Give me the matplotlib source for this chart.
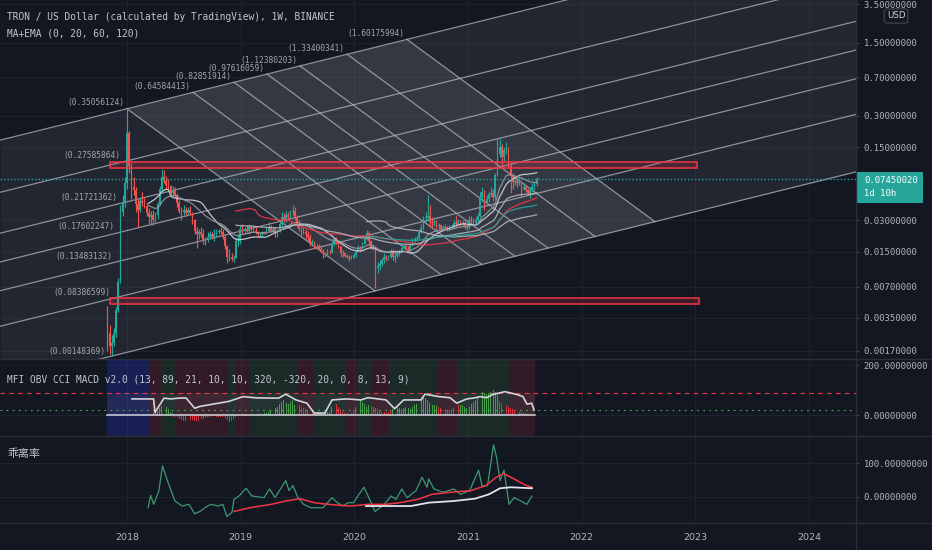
import numpy as np
import pandas as pd
import matplotlib
matplotlib.use('Agg')
import matplotlib.pyplot as plt
from matplotlib.patches import Polygon, Rectangle
from matplotlib.lines import Line2D
from matplotlib.ticker import NullLocator

plt.rcParams['font.family'] = ['DejaVu Sans', 'Noto Sans CJK SC']

# ---------------- data ----------------
# weekly candles, Monday open, first one 2017-10-30
first_week = '2017-10-30'
first_open = 0.0042
closes = [
    .0025, .0019, .0020, .0025, .0042, .0078, .036, .045, .068,
    .205, .10, .062, .058, .043, .038, .046, .044, .041, .035, .032,
    .034, .030, .034, .043, .060, .078, .072, .066, .064, .055,
    .058, .052, .044, .037, .036, .038, .035, .038, .035, .030,
    .024, .022, .023, .022, .019, .020, .021, .022, .021, .022,
    .023, .024, .023, .021, .017, .0135, .0135, .0128, .0132, .019, .019, .025,
    .024, .025, .024, .026, .025, .024, .023, .022, .022, .023, .022, .024,
    .026, .024, .025, .022, .024, .028, .032, .030, .034, .032, .036, .037,
    .032, .028, .025, .025, .023, .022, .021, .018, .0185, .017, .017, .016,
    .015, .0145, .0142, .015, .0148, .018, .0195, .0185, .017, .0145, .0145, .0138, .0135, .0130, .0132, .0140,
    .0150, .0165, .0160, .0180, .0200, .0225, .0190, .0165, .0160, .0105, .0110, .0115,
    .0125, .0135, .0128, .0135, .0152, .0135, .0138, .0145, .0152, .0165, .0170, .0160,
    .0158, .0175, .0195, .0198, .0205, .0230, .0255, .0315, .0320, .0330, .0290, .0285,
    .0290, .0265, .0270, .0250, .0255, .0260, .0245, .0255, .0260, .0285, .0280, .0290, .0272, .0285, .0265, .0265,
    .0300, .0295, .0285, .0300, .0330, .0500, .0560, .0440, .0480, .0540, .0550, .0500,
    .082, .128, .150, .120, .140, .140, .100, .080, .070, .072, .068, .070,
    .060, .063, .058, .055, .058, .063, .067, .0745,
]
highs = [
    .0046, .0030, .0024, .0028, .0045, .0085, .042, .052, .078,
    .345, .215, .105, .078, .062, .048, .050, .056, .050, .045, .039,
    .037, .038, .036, .045, .064, .094, .090, .080, .074, .066,
    .064, .063, .055, .047, .040, .042, .040, .040, .041, .036,
    .031, .026, .025, .026, .025, .021, .023, .024, .023, .025,
    .025, .025, .026, .025, .022, .0175, .016, .0145, .0140, .021, .022, .027,
    .028, .026, .027, .028, .027, .027, .026, .024, .023, .024, .024, .026,
    .029, .027, .026, .026, .025, .029, .036, .035, .037, .036, .038, .042,
    .040, .034, .030, .027, .026, .025, .024, .022, .020, .019, .018, .018,
    .0175, .016, .015, .016, .0155, .019, .0205, .021, .019, .0172, .0155, .015, .0142, .014, .014, .0145,
    .0155, .0175, .0170, .0185, .0210, .0245, .0240, .0195, .0175, .0165, .0120, .0125,
    .0130, .0145, .0140, .0140, .0160, .0160, .0142, .0150, .0158, .0175, .0180, .0178,
    .0170, .0180, .0205, .0210, .0215, .0240, .0275, .0330, .0360, .0520, .0420, .0320,
    .0310, .0300, .0285, .0275, .0270, .0275, .0265, .0270, .0275, .0300, .0340, .0310, .0300, .0300, .0310, .0285,
    .0330, .0330, .0315, .0320, .0350, .0560, .0620, .0580, .0520, .0560, .0620, .0600,
    .085, .182, .180, .160, .150, .170, .150, .110, .085, .080, .078, .078,
    .070, .068, .065, .060, .062, .068, .070, .078,
]
lows = [
    .0017, .0016, .0015, .0019, .0023, .0040, .0075, .033, .040,
    .060, .085, .048, .052, .036, .026, .036, .041, .039, .033, .028,
    .027, .027, .029, .031, .042, .056, .068, .060, .060, .050,
    .051, .050, .040, .035, .030, .034, .033, .034, .034, .028,
    .022, .0165, .020, .021, .018, .0175, .0185, .020, .020, .019,
    .021, .022, .022, .020, .016, .0118, .0122, .0122, .0120, .013, .017, .018,
    .022, .022, .023, .022, .024, .023, .022, .021, .021, .021, .022, .022,
    .023, .023, .023, .021, .021, .023, .026, .029, .029, .030, .031, .034,
    .030, .026, .024, .021, .022, .020, .019, .017, .017, .016, .016, .0155,
    .0145, .0132, .0135, .0138, .0142, .0145, .017, .0178, .0165, .0135, .0135, .0135, .013, .0122, .0128, .013,
    .0135, .0148, .0150, .0158, .0178, .0195, .0180, .0160, .0155, .0068, .0095, .0100,
    .0110, .0118, .0122, .0125, .0132, .0125, .0120, .0132, .0138, .0150, .0160, .0155,
    .0150, .0155, .0172, .0185, .0190, .0200, .0225, .0245, .0290, .0300, .0260, .0260,
    .0265, .0250, .0250, .0245, .0242, .0245, .0238, .0240, .0248, .0255, .0260, .0270, .0265, .0268, .0250, .0240,
    .0250, .0270, .0265, .0265, .0290, .0320, .0450, .0380, .0420, .0450, .0500, .0460,
    .048, .080, .120, .100, .110, .130, .095, .055, .060, .065, .063, .066,
    .050, .058, .056, .052, .049, .056, .058, .064,
]

price_ticks = [3.5, 1.5, 0.7, 0.3, 0.15, 0.03, 0.015, 0.007, 0.0035, 0.0017]
last_price = 0.0745002
last_label = ['0.07450020', '1d 10h']
years = [2018, 2019, 2020, 2021, 2022, 2023, 2024]

# moving averages of the MA+EMA study: (length, kind, colour)
ma_specs = [(20, 'sma', '#d1d4dc'), (20, 'ema', '#9598a1'),
            (60, 'sma', '#f23645'), (60, 'ema', '#b2b5be'),
            (120, 'sma', '#b2b5be'), (120, 'ema', '#26a69a')]

# fib channel drawing
fib_levels = [0, 0.236, 0.382, 0.5, 0.618, 0.786, 1]
chan_start = (2017.835, 0.00148369)
chan_top = (2018.0, 0.35056124)
chan_slope = 0.2691      # log10 price per year
fan_width = 2.4626       # years from first to last down line along the top edge
fan_run = 2.181          # years a down line runs from top edge to base
left_labels = ['(0.00148369)', '(0.08386599)', '(0.13483132)', '(0.17602247)',
               '(0.21721362)', '(0.27585864)', '(0.35056124)']
top_labels = ['', '(0.64584413)', '(0.82851914)', '(0.97616059)',
              '(1.12380203)', '(1.33400341)', '(1.60175994)']

# red boxes: (start, end, low, high)
boxes = [(2017.850, 2023.013, 0.0949, 0.1082),
         (2017.850, 2023.031, 0.00476, 0.00544)]

# MFI OBV CCI MACD pane
mfi_t = [2018.044, 2018.234, 2018.246, 2018.325, 2018.387, 2018.454, 2018.519, 2018.595,
         2018.642, 2018.765, 2018.894, 2019.020, 2019.143, 2019.333, 2019.396, 2019.486,
         2019.583, 2019.645, 2019.741, 2019.803, 2019.926, 2020.058, 2020.120, 2020.278,
         2020.354, 2020.433, 2020.586, 2020.621, 2020.744, 2020.841, 2020.900, 2020.988,
         2021.043, 2021.105, 2021.164, 2021.219, 2021.325, 2021.427, 2021.483, 2021.518,
         2021.559, 2021.580]
mfi_v = [66, 66, 12, 69, 66, 69, 70, 29, 36, 46, 56, 75, 70, 69, 85, 62, 49, 10, 10, 62,
         66, 62, 71, 62, 27, 62, 62, 85, 75, 71, 49, 66, 69, 75, 71, 84, 95, 84, 75, 45, 49, 22]
mfi_upper = 88
mfi_lower = 22
bars_first_week = 20
bar_vals = [5, 8, 12, 18, 28, 38, 43, 35, 25, 15,
            8, -5, -8, -12, -18, -22, -23, -20, -18, -16,
            -20, -23, -20, -15, -12, -10, -8, -6, -5, -4,
            -5, -6, -8, -6, -10, -18, -25, -22, -15, -8,
            -4, 3, 5, -3, -4, 5, 6, 4, 3, 5,
            4, 6, 8, 10, 15, 20, 25, 30, 35, 45,
            55, 60, 50, 45, 55, 60, 40, 30, 40, 35,
            30, 25, 20, 15, 10, 8, 10, 12, 10, 8,
            10, 12, 15, 35, 50, 45, 35, 25, 15, 10,
            8, 6, 10, 20, 35, 50, 60, 55, 45, 35,
            40, 38, 35, 30, 25, 20, 15, 12, 10, 15,
            20, 25, 30, 35, 30, 25, 30, 35, 30, 25,
            35, 40, 45, 60, 75, 80, 70, 60, 50, 43,
            40, 38, 35, 30, 28, 25, 22, 20, 25, 30,
            35, 40, 43, 40, 35, 30, 35, 45, 55, 60,
            70, 85, 95, 90, 85, 90, 95, 100, 95, 90,
            56, 50, 45, 40, 35, 30, 25, 22, 18, 15,
            12, 10, 8, 6, 5, 4, 3, 2]
bar_runs = [('g', 11), ('r', 29), ('r', 1), ('g', 2), ('r', 2), ('g', 22), ('r', 9),
            ('g', 8), ('r', 11), ('g', 6), ('r', 10), ('g', 21), ('r', 10), ('g', 18), ('r', 18)]
bands = [(2017.824, 2018.202, 'b'), (2018.202, 2018.296, 'r'), (2018.296, 2018.422, 'g'),
         (2018.422, 2018.880, 'r'), (2018.880, 2018.959, 'g'), (2018.959, 2019.082, 'r'),
         (2019.082, 2019.504, 'g'), (2019.504, 2019.645, 'r'), (2019.645, 2019.926, 'g'),
         (2019.926, 2020.023, 'r'), (2020.023, 2020.146, 'g'), (2020.146, 2020.304, 'r'),
         (2020.304, 2020.731, 'g'), (2020.731, 2020.902, 'r'), (2020.902, 2021.360, 'g'),
         (2021.360, 2021.588, 'r')]

# 乖离率 pane
dev_green_t = [2018.185, 2018.208, 2018.234, 2018.281, 2018.312, 2018.360, 2018.422, 2018.484,
               2018.545, 2018.595, 2018.642, 2018.686, 2018.736, 2018.800, 2018.844, 2018.878,
               2018.923, 2018.941, 2018.985, 2019.047, 2019.098, 2019.205, 2019.254, 2019.302,
               2019.396, 2019.425, 2019.459, 2019.504, 2019.553, 2019.616, 2019.679, 2019.724,
               2019.803, 2019.851, 2019.899, 2019.944, 2019.993, 2020.040, 2020.084, 2020.134,
               2020.181, 2020.225, 2020.275, 2020.322, 2020.366, 2020.417, 2020.463, 2020.542,
               2020.595, 2020.639, 2020.653, 2020.700, 2020.779, 2020.873, 2020.935, 2021.013,
               2021.092, 2021.122, 2021.171, 2021.224, 2021.249, 2021.281, 2021.316, 2021.360,
               2021.404, 2021.465, 2021.516, 2021.562]
dev_green_v = [-32, 5, -22, 19, 93, 44, -12, -27, -22, -50, -43, -32, -22, -27, -22, -58,
               -46, -7, 3, 26, 3, -2, 24, -2, 49, 19, 34, -2, -22, -32, -32, -32,
               -2, -17, -27, -17, -17, 8, 29, -7, -43, -32, -17, 3, -7, 24, -2, 19,
               59, 29, 54, 24, 14, 24, 8, 19, 80, 34, 34, 156, 121, 49, 80, -22,
               -2, -12, -22, 3]
dev_red_t = [2018.941, 2019.082, 2019.267, 2019.396, 2019.522, 2019.645, 2019.773, 2019.961,
             2020.120, 2020.275, 2020.401, 2020.559, 2020.682, 2020.841, 2021.025, 2021.155,
             2021.249, 2021.312, 2021.404, 2021.500, 2021.562]
dev_red_v = [-43, -32, -22, -12, -5, -17, -22, -27, -22, -22, -17, -7, 8, 14, 19, 34,
             59, 70, 54, 36, 29]
dev_white_t = [2020.102, 2020.275, 2020.495, 2020.653, 2020.873, 2021.061, 2021.184,
               2021.281, 2021.375, 2021.562]
dev_white_v = [-27, -27, -27, -17, -12, -5, 8, 26, 29, 26]

# ---------------- styling ----------------
BG = '#131722'
GRID = '#1e222d'
SEP = '#2a2e39'
TXT = '#b2b5be'
UP = '#26a69a'
DOWN = '#ef5350'
MONO = 'DejaVu Sans Mono'

W, H = 932, 550
AXR = 855.8
XL = (2016.883, 2024.410)

fig = plt.figure(figsize=(W / 100, H / 100), dpi=100, facecolor=BG)


def fx(px):
    return px / W


def fy(py):
    return 1 - py / H


ax = fig.add_axes([0, fy(359), fx(AXR), 359 / H])
axm = fig.add_axes([0, fy(436), fx(AXR), (436 - 359) / H])
axd = fig.add_axes([0, fy(522.8), fx(AXR), (522.8 - 436) / H])

for a in (ax, axm, axd):
    a.set_facecolor(BG)
    for s in a.spines.values():
        s.set_visible(False)
    a.set_xlim(*XL)
    a.set_xticks(years)
    a.grid(True, color=GRID, lw=0.8)
    a.set_axisbelow(True)
    a.yaxis.tick_right()
    a.tick_params(axis='y', colors='#434651', labelcolor=TXT, labelsize=6.4,
                  length=2.5, width=0.8, pad=3.2)
    a.tick_params(axis='x', length=0, labelbottom=False)

# ---------------- price pane ----------------
ax.set_yscale('log')
ax.set_ylim(0.001419, 3.84)
ax.yaxis.set_minor_locator(NullLocator())
ax.set_yticks(price_ticks)
ax.set_yticklabels(['%.8f' % v for v in price_ticks])

b0 = np.log10(chan_start[1])


def base(t):
    return b0 + chan_slope * (t - chan_start[0])


width = np.log10(chan_top[1]) - base(chan_top[0])

tt = np.array(XL)
ax.fill_between(tt, 10 ** base(tt), 10 ** (base(tt) + width), color='#8a8e9c',
                alpha=0.13, lw=0, zorder=1)
t_a = chan_top[0]
fan = [(t_a, 10 ** (base(t_a) + width)),
       (t_a + fan_width, 10 ** (base(t_a + fan_width) + width)),
       (t_a + fan_width + fan_run, 10 ** base(t_a + fan_width + fan_run)),
       (t_a + fan_run, 10 ** base(t_a + fan_run))]
ax.add_patch(Polygon(fan, closed=True, facecolor='#b0b4c2', alpha=0.13, lw=0, zorder=1))

for f in fib_levels:
    ax.plot(tt, 10 ** (base(tt) + f * width), color='#b2b5be', lw=0.9, alpha=0.75, zorder=2)
    ts = t_a + f * fan_width
    te = ts + fan_run
    ax.plot([ts, te], [10 ** (base(ts) + width), 10 ** base(te)], color='#b2b5be',
            lw=0.9, alpha=0.75, zorder=2)

for f, lab in zip(fib_levels, left_labels):
    t = chan_start[0] + f * (chan_top[0] - chan_start[0])
    ax.annotate(lab, (t, 10 ** (base(t) + f * width)), xytext=(-2, 1),
                textcoords='offset points', ha='right', va='bottom', fontsize=5.7,
                family=MONO, color='#a3a6af', zorder=8)
for f, lab in zip(fib_levels, top_labels):
    if not lab:
        continue
    t = t_a + f * fan_width
    ax.annotate(lab, (t, 10 ** (base(t) + width)), xytext=(-2, 1),
                textcoords='offset points', ha='right', va='bottom', fontsize=5.7,
                family=MONO, color='#a3a6af', zorder=8)

# candles
dates = pd.date_range(first_week, periods=len(closes), freq='7D')
tx = 2018 + (dates - pd.Timestamp('2018-01-01')).days.values / 365.25
c = np.array(closes)
o = np.r_[first_open, c[:-1]]
hi = np.maximum(np.array(highs), np.maximum(o, c))
lo = np.minimum(np.array(lows), np.minimum(o, c))
cols = np.where(c >= o, UP, DOWN)
ax.vlines(tx, lo, hi, colors=cols, lw=0.85, zorder=4)
ax.bar(tx, np.abs(c - o), bottom=np.minimum(o, c), width=0.0145, color=cols, lw=0, zorder=4)

s = pd.Series(c)
for n, kind, color in ma_specs:
    if kind == 'sma':
        m = s.rolling(n).mean()
    else:
        m = s.ewm(span=n, adjust=False).mean()
        m[:n - 1] = np.nan
    ax.plot(tx, m, color=color, lw=0.9, alpha=0.9, zorder=5)

for t0, t1, p0, p1 in boxes:
    ax.add_patch(Rectangle((t0, p0), t1 - t0, p1 - p0, facecolor='#f23645', alpha=0.18,
                           lw=0, zorder=6))
    ax.add_patch(Rectangle((t0, p0), t1 - t0, p1 - p0, facecolor='none', edgecolor='#f23645',
                           lw=1.1, zorder=6))

ax.axhline(last_price, color=UP, lw=1.0, ls=(0, (1, 1.5)), zorder=6)

# ---------------- MFI pane ----------------
axm.set_ylim(-81.7, 225)
axm.set_yticks([0, 200])
axm.set_yticklabels(['%.8f' % v for v in (0, 200)])
band_col = {'b': ('#2a3eff', 0.22), 'r': ('#f23645', 0.14), 'g': ('#4caf50', 0.13)}
for t0, t1, k in bands:
    cl, al = band_col[k]
    axm.axvspan(t0, t1, color=cl, alpha=al, lw=0, zorder=1)
axm.fill_between([bands[0][0], bands[-1][1]], 0, mfi_upper, color='white', alpha=0.05,
                 lw=0, zorder=1)
axm.axhline(mfi_upper, color='#f23645', lw=0.8, ls=(0, (4, 4)), zorder=2)
axm.axhline(mfi_lower, color='#4caf50', lw=0.8, ls=(0, (1.5, 4)), zorder=2)
bar_cols = []
for k, n in bar_runs:
    bar_cols += [k] * n
bar_cols = ['#4caf50' if k == 'g' else '#f23645' for k in bar_cols]
tb = tx[bars_first_week:bars_first_week + len(bar_vals)]
axm.bar(tb, bar_vals, width=0.008, color=bar_cols, alpha=0.85, lw=0, zorder=3)
axm.plot([bands[0][0], bands[-1][1]], [0, 0], color='#d1d4dc', lw=1.1, zorder=4)
axm.plot(mfi_t, mfi_v, color='#d1d4dc', lw=1.2, zorder=5)

# ---------------- 乖离率 pane ----------------
axd.set_ylim(-77, 182)
axd.set_yticks([0, 100])
axd.set_yticklabels(['%.8f' % v for v in (0, 100)])
axd.plot(dev_green_t, dev_green_v, color='#3d9970', lw=0.9, zorder=3)
axd.plot(dev_red_t, dev_red_v, color='#f23645', lw=1.1, zorder=4)
axd.plot(dev_white_t, dev_white_v, color='#e0e3eb', lw=1.3, zorder=5)
axd.set_xticklabels([str(y) for y in years])
axd.tick_params(axis='x', length=0, pad=7, labelbottom=True, labelsize=6.8, labelcolor=TXT)

for a in (ax, axm, axd):
    for lab in a.get_yticklabels():
        lab.set_family(MONO)

# ---------------- frame, separators, labels ----------------
for py in (359, 436, 522.8):
    fig.add_artist(Line2D([0, 1], [fy(py)] * 2, color=SEP, lw=1, transform=fig.transFigure))
fig.add_artist(Line2D([fx(AXR)] * 2, [0, 1], color=SEP, lw=1, transform=fig.transFigure))

fig.add_artist(Rectangle((fx(AXR), fy(202.5)), fx(922.5 - AXR), 30.5 / H, facecolor=UP,
                         lw=0, transform=fig.transFigure))
fig.text(fx(864), fy(180.7), last_label[0], color='white', fontsize=6.4, family=MONO,
         va='center', ha='left')
fig.text(fx(864), fy(194), last_label[1], color='white', fontsize=6.4, family=MONO,
         va='center', ha='left')
fig.text(fx(896), fy(16), 'USD', color='#d1d4dc', fontsize=6.2, ha='center', va='center',
         bbox=dict(boxstyle='round,pad=0.3', fc=BG, ec='#434651', lw=0.8))

fig.text(fx(7), fy(17.3), 'TRON / US Dollar (calculated by TradingView), 1W, BINANCE',
         color='#c3c6ce', fontsize=6.85, family=MONO, va='center')
fig.text(fx(7), fy(34), 'MA+EMA (0, 20, 60, 120)', color='#c3c6ce', fontsize=6.85,
         family=MONO, va='center')
fig.text(fx(7), fy(380), 'MFI OBV CCI MACD v2.0 (13, 89, 21, 10, 10, 320, -320, 20, 0, 8, 13, 9)',
         color='#c3c6ce', fontsize=6.85, family=MONO, va='center')
fig.text(fx(7), fy(454), '乖离率', color='#c3c6ce', fontsize=7.9,
         family=['Noto Sans CJK SC', 'DejaVu Sans'], va='center')

fig.savefig('out.png', dpi=100, facecolor=BG)
